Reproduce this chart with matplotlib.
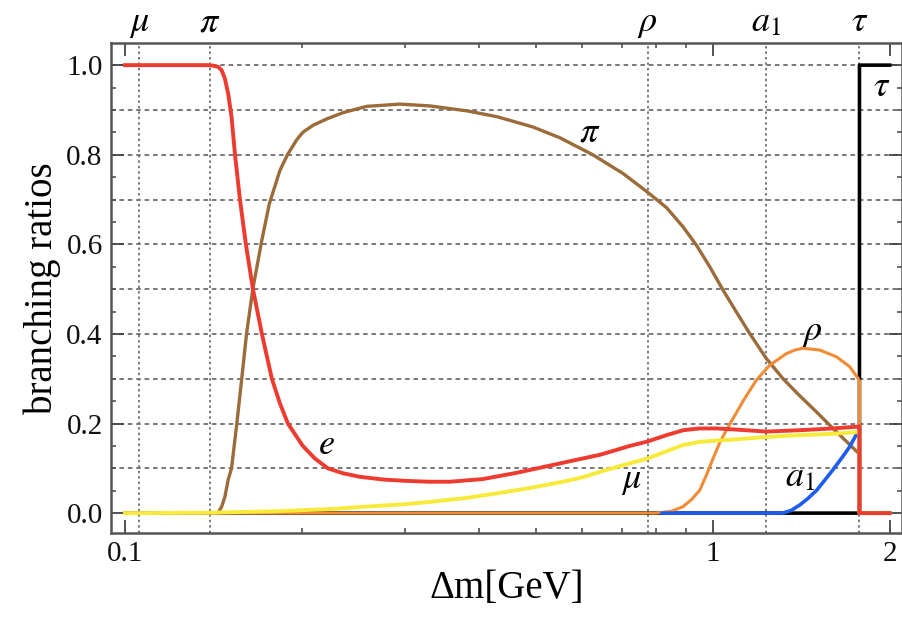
import numpy as np
import matplotlib
matplotlib.use("Agg")
import matplotlib.pyplot as plt
from matplotlib.ticker import NullFormatter

plt.rcParams['font.family'] = ['Liberation Serif', 'DejaVu Serif']
plt.rcParams['mathtext.fontset'] = 'stix'

# masses of the final states [GeV]
thresholds = {r'$\mu$': 0.1057, r'$\pi$': 0.1396, r'$\rho$': 0.775,
              r'$a_1$': 1.23, r'$\tau$': 1.777}

# e channel
e_dm = [0.1, 0.138, 0.1411, 0.1441, 0.146, 0.1479, 0.1498, 0.1518, 0.1539,
        0.1569, 0.1606, 0.1651, 0.171, 0.1778, 0.1835, 0.1893, 0.2007, 0.2104,
        0.2214, 0.2348, 0.251, 0.275, 0.30, 0.3302, 0.3571, 0.4063, 0.4642,
        0.5283, 0.601, 0.6424, 0.7227, 0.7754, 0.8343, 0.8903, 0.95, 1.0158,
        1.08, 1.234, 1.406, 1.6, 1.7666, 1.777, 1.7771, 2.0]
e_br = [1.0, 1.0, 0.999, 0.996, 0.989, 0.970, 0.937, 0.885, 0.80,
        0.70, 0.60, 0.50, 0.40, 0.30, 0.245, 0.20, 0.15, 0.122,
        0.10, 0.089, 0.081, 0.075, 0.072, 0.070, 0.070, 0.076, 0.090,
        0.106, 0.122, 0.130, 0.150, 0.160, 0.174, 0.185, 0.189, 0.189,
        0.187, 0.182, 0.185, 0.189, 0.193, 0.194, 0.0, 0.0]

# single pion channel
pi_dm = [0.1, 0.1439, 0.146, 0.1479, 0.1498, 0.1518, 0.155, 0.158, 0.161,
         0.165, 0.171, 0.176, 0.1835, 0.189, 0.1959, 0.2007, 0.2091, 0.2205,
         0.2351, 0.251, 0.2579, 0.2935, 0.33, 0.3816, 0.4292, 0.4943, 0.5493,
         0.625, 0.704, 0.7754, 0.8343, 0.8903, 0.9382, 0.9883, 1.0411,
         1.0971, 1.1558, 1.234, 1.317, 1.406, 1.5011, 1.6021, 1.7666, 1.777,
         1.7771, 2.0]
pi_br = [0.0, 0.0, 0.014, 0.036, 0.074, 0.10, 0.20, 0.30, 0.40,
         0.50, 0.61, 0.69, 0.765, 0.80, 0.833, 0.85, 0.866, 0.88,
         0.894, 0.904, 0.908, 0.913, 0.909, 0.898, 0.885, 0.862, 0.838,
         0.800, 0.758, 0.716, 0.682, 0.639, 0.598, 0.55, 0.498,
         0.449, 0.401, 0.345, 0.300, 0.262, 0.226, 0.189, 0.135, 0.132,
         0.0, 0.0]

# mu channel
mu_dm = [0.1, 0.1057, 0.14, 0.18, 0.2232, 0.2539, 0.30, 0.3302, 0.3816,
         0.4292, 0.4885, 0.5558, 0.601, 0.6424, 0.704, 0.7754, 0.8343, 0.8903,
         0.95, 1.0158, 1.08, 1.234, 1.406, 1.6, 1.7666, 1.777, 1.7771, 2.0]
mu_br = [0.0, 0.0, 0.001, 0.004, 0.009, 0.014, 0.020, 0.025, 0.034,
         0.044, 0.056, 0.070, 0.080, 0.092, 0.107, 0.122, 0.138, 0.152,
         0.159, 0.162, 0.164, 0.170, 0.174, 0.177, 0.181, 0.182, 0.0, 0.0]

# rho channel
rho_dm = [0.1, 0.80, 0.85, 0.8892, 0.92, 0.9504, 0.9757, 1.0, 1.03, 1.06,
          1.1262, 1.1866, 1.25, 1.3345, 1.38, 1.424, 1.5205, 1.6237, 1.71,
          1.7666, 1.777, 1.7771, 2.0]
rho_br = [0.0, 0.0, 0.004, 0.014, 0.030, 0.051, 0.085, 0.12, 0.160, 0.190,
          0.250, 0.297, 0.330, 0.356, 0.364, 0.368, 0.364, 0.349, 0.327,
          0.301, 0.295, 0.0, 0.0]

# a1 channel
a1_dm = [0.82, 1.3152, 1.36, 1.406, 1.45, 1.5028, 1.55, 1.60, 1.66, 1.71,
         1.765, 1.777, 1.7771, 2.0]
a1_br = [0.0, 0.0, 0.006, 0.018, 0.032, 0.051, 0.073, 0.096, 0.124, 0.148,
         0.181, 0.186, 0.0, 0.0]

# tau channel
tau_dm = [0.1, 1.777, 1.7771, 2.0]
tau_br = [0.0, 0.0, 1.0, 1.0]

fig = plt.figure(figsize=(9.03, 6.17), dpi=100)
ax = fig.add_axes([0.123, 0.136, 0.876, 0.794])
ax.set_xscale('log')
ax.set_xlim(0.0947, 2.10)
ax.set_ylim(-0.0446, 1.049)

# grid: dashed horizontals, dotted verticals at the thresholds
for y in np.arange(0.1, 1.01, 0.1):
    ax.axhline(y, color='#555555', lw=1.1, ls=(0, (3, 2.5)), zorder=1)
for m in thresholds.values():
    ax.axvline(m, color='#777777', lw=1.4, ls=(0, (1.2, 1.6)), zorder=1)

ax.plot(tau_dm, tau_br, color='black', lw=2.6, zorder=2)
ax.plot(pi_dm, pi_br, color='#9c6b3a', lw=2.4, zorder=3)
ax.plot(rho_dm, rho_br, color='#f08c35', lw=2.2, zorder=4)
ax.plot(a1_dm, a1_br, color='#1f5cf0', lw=2.6, zorder=5)
ax.plot(mu_dm, mu_br, color='#f7ea3a', lw=2.8, zorder=6)
ax.plot(e_dm, e_br, color='#ee3b30', lw=2.8, zorder=7)

# curve labels
lab = dict(fontsize=26, ha='center', va='center', zorder=8)
ax.text(0.2206, 0.152, r'$e$', **lab)
ax.text(0.6177, 0.848, r'$\pi$', **lab)
ax.text(0.728, 0.072, r'$\mu$', **lab)
ax.text(1.474, 0.404, r'$\rho$', **lab)
ax.text(1.406, 0.080, r'$a_1$', **lab)
ax.text(1.939, 0.949, r'$\tau$', **lab)

# threshold names above the frame
for name, m in thresholds.items():
    ax.text(m, 1.024, name, transform=ax.get_xaxis_transform(),
            fontsize=26, ha='center', va='baseline')

ax.set_xticks([0.1, 1, 2])
ax.set_xticklabels(['0.1', '1', '2'])
ax.set_xticks([0.2, 0.3, 0.4, 0.5, 0.6, 0.7, 0.8, 0.9], minor=True)
ax.xaxis.set_minor_formatter(NullFormatter())
ax.set_yticks([0.0, 0.2, 0.4, 0.6, 0.8, 1.0])
ax.set_yticklabels(['0.0', '0.2', '0.4', '0.6', '0.8', '1.0'])
ax.set_yticks(np.arange(0.0, 1.01, 0.05), minor=True)
ax.tick_params(which='both', direction='in', top=True, right=True,
               color='#444444', labelsize=21, labelcolor='#111111')
ax.tick_params(which='major', length=9.5, width=1.3, pad=6)
ax.tick_params(which='minor', length=3.6, width=1.1)

for sp in ax.spines.values():
    sp.set_color('#555555')
    sp.set_linewidth(1.8)

ax.set_xlabel('Δm[GeV]', fontsize=28, labelpad=2)
ax.set_ylabel('branching ratios', fontsize=28, labelpad=4)

fig.savefig('out.png', dpi=100)
